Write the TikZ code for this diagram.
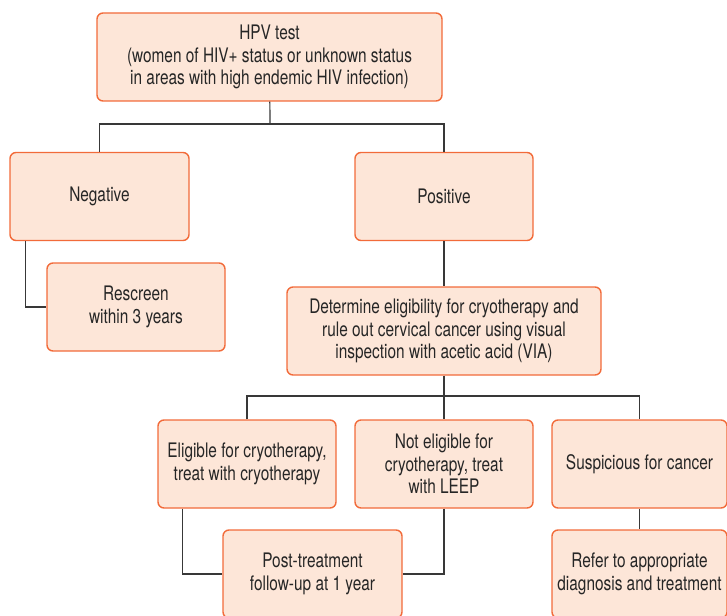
\documentclass[tikz,border=0pt]{standalone}
\usepackage{fontspec}
\setmainfont[FakeStretch=0.77]{TeX Gyre Heros}
\usepackage{xcolor}
\usepackage{tikz}

\definecolor{boxfill}{HTML}{FDE6D8}
\definecolor{boxline}{HTML}{F26B3A}
\definecolor{linkgray}{HTML}{383838}

\begin{document}
\begin{tikzpicture}[x=1pt,y=-1pt,
        box/.style={draw=boxline, fill=boxfill, line width=1.4pt, rounded corners=6pt,
            minimum height=88pt, align=center, inner sep=0pt,
            font=\fontsize{20}{22.5}\selectfont, text=black!85},
        link/.style={draw=linkgray, line width=1.2pt}]
        \useasboundingbox (0,0) rectangle (727,615);

        \node[box, minimum width=345pt] (hpv) at (269.5,57) {HPV test\\(women of HIV+ status or unknown status\\in areas with high endemic HIV infection)};

        \node[box, minimum width=179pt] (neg) at (99.5,196.5) {Negative};
        \node[box, minimum width=178pt] (pos) at (444,196.5) {Positive};
        \node[box, minimum width=178pt] (rescreen) at (136,307) {Rescreen\\within 3 years};

        \node[box, minimum width=314pt] (via) at (444,331) {Determine eligibility for cryotherapy and\\rule out cervical cancer using visual\\inspection with acetic acid (VIA)};

        \node[box, minimum width=178pt] (elig) at (247,464) {Eligible for cryotherapy,\\treat with cryotherapy};
        \node[box, minimum width=178pt] (leep) at (444,464) {Not eligible for\\cryotherapy, treat\\with LEEP};
        \node[box, minimum width=175pt] (susp) at (639.5,464) {Suspicious for cancer};

        \node[box, minimum width=179pt] (post) at (312.5,574) {Post-treatment\\follow-up at 1 year};
        \node[box, minimum width=175pt] (refer) at (639.5,574) {Refer to appropriate\\diagnosis and treatment};

        \coordinate (j1) at (270,124);
        \coordinate (j2) at (444,396);

        \draw[link] (hpv) -- (j1);
        \draw[link] (neg.north) |- (j1) -| (pos.north);
        \draw[link] ([xshift=16pt]neg.south west) |- (rescreen.west);
        \draw[link] (pos) -- (via);
        \draw[link] (via) -- (leep);
        \draw[link] (elig.north) |- (j2) -| (susp.north);
        \draw[link] ([xshift=25pt]elig.south west) |- (post.west);
        \draw[link] (leep.south) |- (post.east);
        \draw[link] (susp) -- (refer);
    \end{tikzpicture}
\end{document}
